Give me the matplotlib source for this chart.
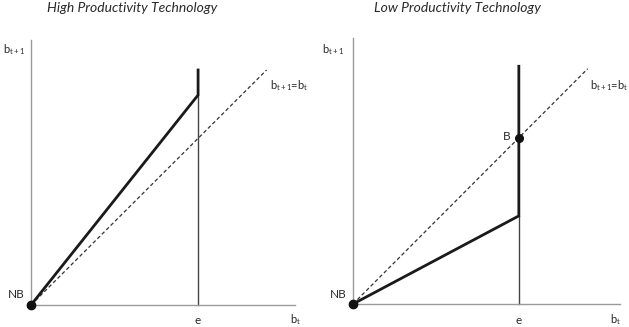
import matplotlib
matplotlib.use("Agg")
import matplotlib.pyplot as plt

plt.rcParams['font.family'] = ['Lato', 'DejaVu Sans']
plt.rcParams['mathtext.fontset'] = 'custom'
plt.rcParams['mathtext.rm'] = 'Lato'
plt.rcParams['mathtext.it'] = 'Lato:italic'

# Data (in units where e = 1)
titles = ["High Productivity Technology", "Low Productivity Technology"]
e = 1.0
curve_at_e = [1.26, 0.53]      # value of b_{t+1} at e for each technology
vertical_top = [1.41, 1.43]    # top of the vertical segment at e
diag_end = [1.41, 1.415]       # end of the 45-degree line
xmax = [1.58, 1.61]
ymax = [1.59, 1.60]
steady_B = [None, 1.0]          # B point on the 45-degree line (low tech only)

W, H = 629, 327
fig = plt.figure(figsize=(W/100, H/100), dpi=100)

panels = [  # left px, bottom px (from top), width px, height px
    (31, 305, 264, 265),
    (353, 304, 267, 266),
]
title_x = [132, 457]
ylab_x = [3, 322]        # left edge of the b_{t+1} axis label (px)
diag_lab_x = [270, 590]  # left edge of the 45-degree label (px)
xlab_x = [296, 616]      # centre of b_t label (px)
tc = '#2a2a2a'
fs = 8.5
fs_sub = 8

def fx(px):
    return px / W

def fy(py):
    return 1 - py / H

for i, (lp, bp, wp, hp) in enumerate(panels):
    ax = fig.add_axes([lp/W, (H-bp)/H, wp/W, hp/H])
    ax.set_xlim(0, xmax[i])
    ax.set_ylim(0, ymax[i])
    for s in ['top', 'right']:
        ax.spines[s].set_visible(False)
    for s in ['left', 'bottom']:
        ax.spines[s].set_color('#9a9a9a')
        ax.spines[s].set_linewidth(1.0)
    ax.set_xticks([]); ax.set_yticks([])
    ax.patch.set_alpha(0)

    # 45-degree line
    ax.plot([0, diag_end[i]], [0, diag_end[i]], ls=(0, (3, 2)), color='#333333', lw=0.9, clip_on=False)
    # thin vertical at e
    ax.plot([e, e], [0, curve_at_e[i]], color='#444444', lw=1.0, clip_on=False)
    # thick transition curve
    ax.plot([0, e, e], [0, curve_at_e[i], vertical_top[i]], color='#1a1a1a', lw=2.0,
            solid_joinstyle='miter', clip_on=False)
    # NB point
    ax.plot([0], [0], 'o', color='#111111', ms=6, clip_on=False, zorder=5)
    if steady_B[i] is not None:
        ax.plot([e], [steady_B[i]], 'o', color='#111111', ms=5.5, clip_on=False, zorder=5)
        ax.text(e - 0.05, steady_B[i] + 0.01, 'B', ha='right', va='center', fontsize=fs, color=tc)

    ax.text(-0.04, 0.06, 'NB', ha='right', va='center', fontsize=fs, color=tc)
    fig.text(fx(lp + (e / xmax[i]) * wp), fy(320), 'e', ha='center', va='center', fontsize=fs, color=tc)
    fig.text(fx(xlab_x[i]), fy(320), r'b$_{\mathrm{t}}$', ha='center', va='center', fontsize=fs_sub, color=tc)
    fig.text(fx(diag_lab_x[i]), fy(86), r'b$_{\mathrm{t+1}}$=b$_{\mathrm{t}}$',
             ha='left', va='center', fontsize=fs_sub, color=tc)
    fig.text(fx(ylab_x[i]), fy(50), r'b$_{\mathrm{t+1}}$', ha='left', va='center', fontsize=fs_sub, color=tc)

    fig.text(fx(title_x[i]), fy(8), titles[i], ha='center', va='center', fontsize=10,
             style='italic', color=tc)

fig.savefig('out.png', dpi=100)
